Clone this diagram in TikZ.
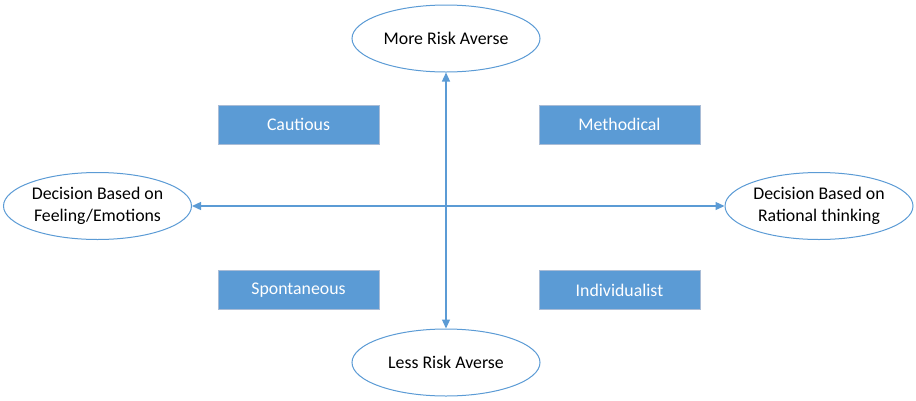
\documentclass[tikz,border=0pt]{standalone}
\usepackage{fontspec}
\setmainfont{Carlito}
\usetikzlibrary{shapes,arrows.meta,positioning}

\definecolor{axisblue}{HTML}{5B9BD5}
\definecolor{boxblue}{HTML}{5B9BD5}
\definecolor{boxedge}{HTML}{A9BCD6}

\begin{document}
\begin{tikzpicture}[x=1pt, y=-1pt, >={Triangle[length=9pt,width=8pt]},
        font=\fontsize{17.8}{22}\selectfont,
        pole/.style={draw=axisblue, line width=1pt, ellipse, fill=white, minimum width=188pt, minimum height=67pt, inner sep=0pt, align=center},
        trait/.style={draw=boxedge, line width=0.8pt, rectangle, fill=boxblue, text=white, minimum width=161pt, minimum height=39pt, inner sep=0pt}]
        \useasboundingbox (0,0) rectangle (916,400);

        \node [pole] (more) at (446,38.5) {More Risk Averse};
        \node [pole] (less) at (446,362.5) {Less Risk Averse};
        \node [pole] (feeling) at (97.5,206) {Decision Based on\\Feeling/Emotions};
        \node [pole] (rational) at (819,206) {Decision Based on\\Rational thinking};

        \node [trait] (cautious) at (298.5,124.5) {Cautious};
        \node [trait] (methodical) at (619.5,124.5) {Methodical};
        \node [trait] (spontaneous) at (298.5,290) {Spontaneous};
        \node [trait] (individualist) at (619.5,290) {Individualist};

        \draw [<->, draw=axisblue, fill=axisblue, line width=1.3pt] (more) -- (less);
        \draw [<->, draw=axisblue, fill=axisblue, line width=1.3pt] (feeling) -- (rational);
    \end{tikzpicture}
\end{document}
